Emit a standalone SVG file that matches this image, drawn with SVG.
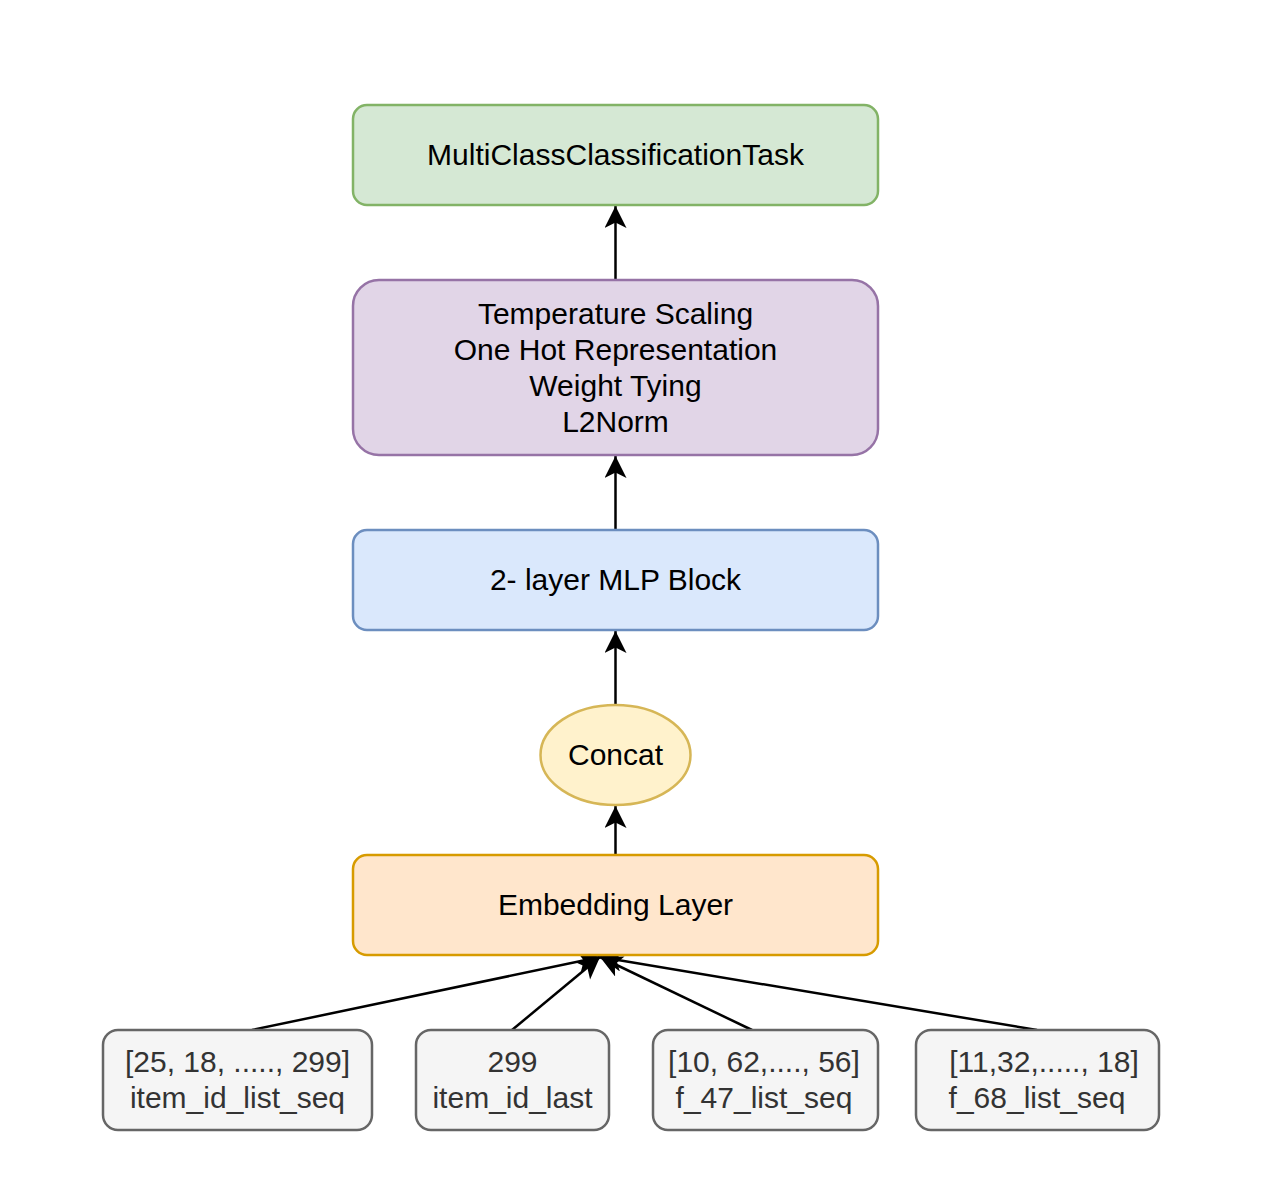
<svg xmlns="http://www.w3.org/2000/svg" width="1262" height="1195" viewBox="0 0 1262 1195">
<defs>
<style>
.t{font-family:"Liberation Sans",Arial,sans-serif;font-size:30px;fill:#000;text-anchor:middle}
.g{fill:#333333}
.box{stroke-width:2.5}
.in{fill:#f5f5f5;stroke:#666666;stroke-width:2.5}
.edge{fill:none;stroke:#000;stroke-width:2.5;marker-end:url(#arr)}
</style>
<marker id="arr" markerUnits="userSpaceOnUse" markerWidth="24" markerHeight="24" viewBox="0 0 24 24" refX="22" refY="11" orient="auto">
<path d="M22,11 L0,0 L5.5,11 L0,22 Z" fill="#000"/>
</marker>
</defs>
<rect width="1262" height="1195" fill="#fff"/>
<g id="connectors">
<line class="edge" x1="615.5" y1="280" x2="615.5" y2="206"/>
<line class="edge" x1="615.5" y1="530" x2="615.5" y2="456"/>
<line class="edge" x1="615.5" y1="705" x2="615.5" y2="631"/>
<line class="edge" x1="615.5" y1="855" x2="615.5" y2="806"/>
<line class="edge" x1="252" y1="1030" x2="600" y2="957"/>
<line class="edge" x1="512" y1="1030" x2="600" y2="957"/>
<line class="edge" x1="752" y1="1030" x2="600" y2="957"/>
<line class="edge" x1="1037" y1="1030" x2="600" y2="957"/>
</g>
<g id="task">
<rect class="box" x="353" y="105" width="525" height="100" rx="14" fill="#d5e8d4" stroke="#82b366"/>
<text class="t" x="615.5" y="165">MultiClassClassificationTask</text>
</g>
<g id="head">
<rect class="box" x="353" y="280" width="525" height="175" rx="26" fill="#e1d5e7" stroke="#9673a6"/>
<text class="t" x="615.5" y="324">Temperature Scaling</text>
<text class="t" x="615.5" y="360">One Hot Representation</text>
<text class="t" x="615.5" y="396">Weight Tying</text>
<text class="t" x="615.5" y="432">L2Norm</text>
</g>
<g id="mlp">
<rect class="box" x="353" y="530" width="525" height="100" rx="14" fill="#dae8fc" stroke="#6c8ebf"/>
<text class="t" x="615.5" y="590">2- layer MLP Block</text>
</g>
<g id="concat">
<ellipse class="box" cx="615.5" cy="755" rx="75" ry="50" fill="#fff2cc" stroke="#d6b656"/>
<text class="t" x="615.5" y="765">Concat</text>
</g>
<g id="embedding">
<rect class="box" x="353" y="855" width="525" height="100" rx="14" fill="#ffe6cc" stroke="#d79b00"/>
<text class="t" x="615.5" y="915">Embedding Layer</text>
</g>
<g id="in1">
<rect class="in" x="103" y="1030" width="269" height="100" rx="15"/>
<text class="t g" x="237.5" y="1072">[25, 18, ....., 299]</text>
<text class="t g" x="237.5" y="1108">item_id_list_seq</text>
</g>
<g id="in2">
<rect class="in" x="416" y="1030" width="193" height="100" rx="15"/>
<text class="t g" x="512.5" y="1072">299</text>
<text class="t g" x="512.5" y="1108">item_id_last</text>
</g>
<g id="in3">
<rect class="in" x="653" y="1030" width="225" height="100" rx="15"/>
<text class="t g" x="764" y="1072">[10, 62,...., 56]</text>
<text class="t g" x="764" y="1108">f_47_list_seq</text>
</g>
<g id="in4">
<rect class="in" x="916" y="1030" width="243" height="100" rx="15"/>
<text class="t g" x="1044" y="1072">[11,32,....., 18]</text>
<text class="t g" x="1037" y="1108">f_68_list_seq</text>
</g>
</svg>
